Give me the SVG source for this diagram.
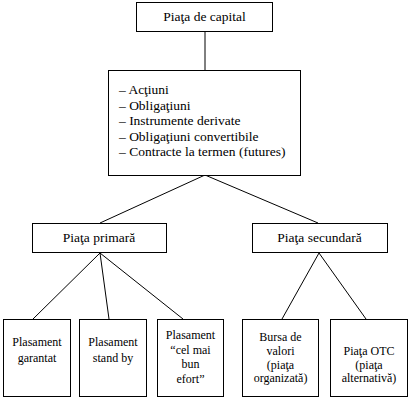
<svg xmlns="http://www.w3.org/2000/svg" width="409" height="400" viewBox="0 0 409 400">
<style>
rect{fill:#fff;stroke:#000;stroke-width:1}
line{stroke:#000;stroke-width:1}
text{fill:#000}
.l{font-size:13.5px;text-anchor:middle}
.s{font-size:12px;text-anchor:middle}
.m{font-size:13.5px}
</style>
<rect width="409" height="400" style="fill:#fff;stroke:none"/>
<g id="connectors">
<line x1="205" y1="31" x2="205" y2="70"/>
<line x1="205" y1="175" x2="100" y2="223"/>
<line x1="205" y1="175" x2="318" y2="223"/>
<line x1="100" y1="253" x2="33" y2="319"/>
<line x1="100" y1="253" x2="109" y2="319"/>
<line x1="100" y1="253" x2="183" y2="319"/>
<line x1="319" y1="253" x2="282" y2="319"/>
<line x1="319" y1="253" x2="366" y2="319"/>
</g>
<g font-family="Liberation Serif, Times New Roman, serif">
<g id="n-capital">
<rect x="136.5" y="2.5" width="136" height="29"/>
<text class="l" x="204.5" y="21">Piaţa de capital</text>
</g>
<g id="n-instrumente">
<rect x="108.5" y="70.5" width="192" height="105"/>
<text class="m" x="119" y="94">– Acţiuni</text>
<text class="m" x="119" y="109.5">– Obligaţiuni</text>
<text class="m" x="119" y="125">– Instrumente derivate</text>
<text class="m" x="119" y="140.5">– Obligaţiuni convertibile</text>
<text class="m" x="119" y="156">– Contracte la termen (futures)</text>
</g>
<g id="n-primara">
<rect x="32.5" y="223.5" width="134" height="29"/>
<text class="l" x="99" y="242">Piaţa primară</text>
</g>
<g id="n-secundara">
<rect x="252.5" y="223.5" width="135" height="29"/>
<text class="l" x="319.5" y="242">Piaţa secundară</text>
</g>
<g id="n-garantat">
<rect x="3.5" y="319.5" width="67" height="77"/>
<text class="s" x="37" y="346">Plasament</text>
<text class="s" x="37" y="362">garantat</text>
</g>
<g id="n-standby">
<rect x="79.5" y="319.5" width="67" height="77"/>
<text class="s" x="113" y="346">Plasament</text>
<text class="s" x="113" y="362">stand by</text>
</g>
<g id="n-efort">
<rect x="157.5" y="319.5" width="66" height="77"/>
<text class="s" x="190.5" y="339">Plasament</text>
<text class="s" x="190.5" y="354">“cel mai</text>
<text class="s" x="190.5" y="368">bun</text>
<text class="s" x="190.5" y="383">efort”</text>
</g>
<g id="n-bursa">
<rect x="242.5" y="319.5" width="76" height="77"/>
<text class="s" x="280.5" y="341">Bursa de</text>
<text class="s" x="280.5" y="355">valori</text>
<text class="s" x="280.5" y="368.5">(piaţa</text>
<text class="s" x="280.5" y="382">organizată)</text>
</g>
<g id="n-otc">
<rect x="330.5" y="319.5" width="77" height="77"/>
<text class="s" x="369" y="355">Piaţa OTC</text>
<text class="s" x="369" y="368.5">(piaţa</text>
<text class="s" x="369" y="382">alternativă)</text>
</g>
</g>
</svg>
